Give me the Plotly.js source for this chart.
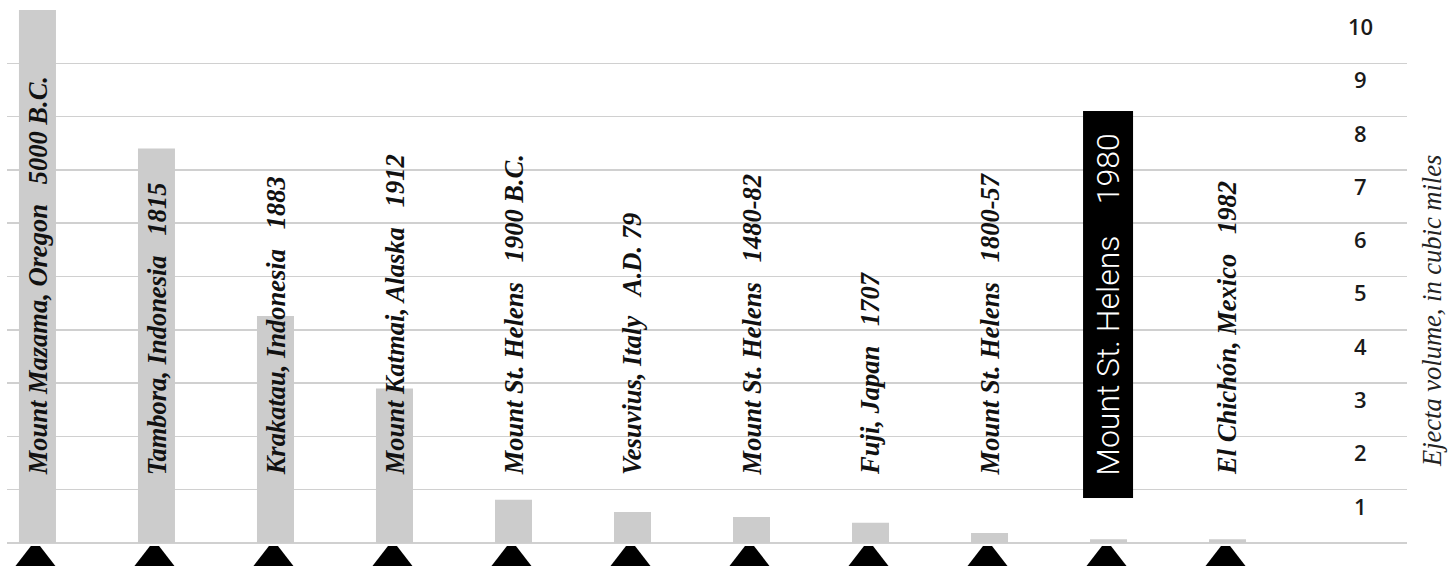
<!DOCTYPE html>
<html>
<head>
<meta charset="utf-8">
<script src="https://cdn.plot.ly/plotly-3.0.1.min.js"></script>
<style>
  html, body { margin: 0; padding: 0; background: #ffffff; }
  #chart { width: 1455px; height: 568px; }
</style>
</head>
<body>
<div id="chart"></div>
<script>
// ---- data ----
const volcanoes = [
  "Mount Mazama, Oregon",
  "Tambora, Indonesia",
  "Krakatau, Indonesia",
  "Mount Katmai, Alaska",
  "Mount St. Helens",
  "Vesuvius, Italy",
  "Mount St. Helens",
  "Fuji, Japan",
  "Mount St. Helens",
  "Mount St. Helens",
  "El Chichón, Mexico"
];
const years = [
  "5000 B.C.", "1815", "1883", "1912", "1900 B.C.", "A.D. 79",
  "1480-82", "1707", "1800-57", "1980", "1982"
];
const ejectaCubicMiles = [10, 7.4, 4.26, 2.9, 0.81, 0.58, 0.49, 0.38, 0.19, 0.07, 0.07];
const highlightIndex = 9;
const tickValues = [0, 1, 2, 3, 4, 5, 6, 7, 8, 9];
const tickLabels = ["1", "2", "3", "4", "5", "6", "7", "8", "9", "10"];
const tickLabelValues = [1, 2, 3, 4, 5, 6, 7, 8, 9, 10];
const axisTitle = "Ejecta volume, in cubic miles";

// ---- build ----
const idx = volcanoes.map((_, i) => i);
const gap = "\u00a0\u00a0\u00a0";

const bars = {
  type: "bar",
  x: idx,
  y: ejectaCubicMiles,
  width: 0.311,
  marker: { color: "#cccccc", line: { width: 0 } },
  hovertext: volcanoes.map((v, i) => v + " " + years[i]),
  hoverinfo: "text+y"
};

// eruption symbols (small black "volcano" trapezoids) below each bar
const shapes = idx.map(i => {
  const c = i - 0.017;
  const p = (x, y) => x.toFixed(4) + "," + y.toFixed(4);
  return {
    type: "path", xref: "x", yref: "y",
    path: "M" + p(c - 0.168, -0.43) + " L" + p(c - 0.038, -0.056) +
          " L" + p(c + 0.038, -0.056) + " L" + p(c + 0.168, -0.43) + " Z",
    fillcolor: "#000000", line: { width: 0 }, layer: "above"
  };
});

const annotations = [];
idx.forEach(i => {
  if (i === highlightIndex) {
    annotations.push({
      x: i, y: 4.475, xref: "x", yref: "y",
      xanchor: "center", yanchor: "middle",
      text: volcanoes[i] + "\u00a0\u00a0\u00a0\u00a0" + years[i],
      textangle: -90, showarrow: false,
      width: 387, height: 50,
      bgcolor: "#000000", borderpad: 0, borderwidth: 0,
      font: { family: "Roboto, Lato, 'Open Sans', sans-serif", size: 32, color: "#ffffff", weight: 300 }
    });
  } else {
    annotations.push({
      x: i, y: 1.25, xref: "x", yref: "y",
      xanchor: "center", yanchor: "bottom",
      text: volcanoes[i] + gap + years[i],
      textangle: -90, showarrow: false, borderpad: 0,
      font: { family: "'Liberation Serif', 'Times New Roman', serif", size: 26.5, color: "#111111", weight: 700, style: "italic" }
    });
  }
});
tickLabels.forEach((t, k) => {
  annotations.push({
    x: 0.967, xref: "paper", y: tickLabelValues[k] - 0.3, yref: "y",
    xanchor: "center", yanchor: "middle",
    text: t, showarrow: false,
    font: { family: "'Open Sans', sans-serif", size: 22, color: "#1a1a1a", weight: 600 }
  });
});
annotations.push({
  x: 1.0179, xref: "paper", y: 0.4606, yref: "paper",
  xanchor: "center", yanchor: "middle",
  text: axisTitle, textangle: -90, showarrow: false,
  font: { family: "'Liberation Serif', 'Times New Roman', serif", size: 26.5, color: "#222222", style: "italic" }
});

const layout = {
  width: 1455, height: 568,
  margin: { l: 7, r: 48, t: 10, b: 0, pad: 0 },
  paper_bgcolor: "#ffffff",
  plot_bgcolor: "#ffffff",
  showlegend: false,
  xaxis: {
    type: "linear", range: [-0.256, 11.508],
    showgrid: false, zeroline: false, showticklabels: false, ticks: "", showline: false, fixedrange: true
  },
  yaxis: {
    range: [-0.469, 10],
    tickmode: "array", tickvals: tickValues,
    showgrid: true, gridcolor: "#d0d0d0", gridwidth: 1.5,
    zeroline: false, showticklabels: false, ticks: "", showline: false, fixedrange: true
  },
  shapes: shapes,
  annotations: annotations
};

Plotly.newPlot("chart", [bars], layout, { displayModeBar: false, staticPlot: true });
</script>
</body>
</html>
